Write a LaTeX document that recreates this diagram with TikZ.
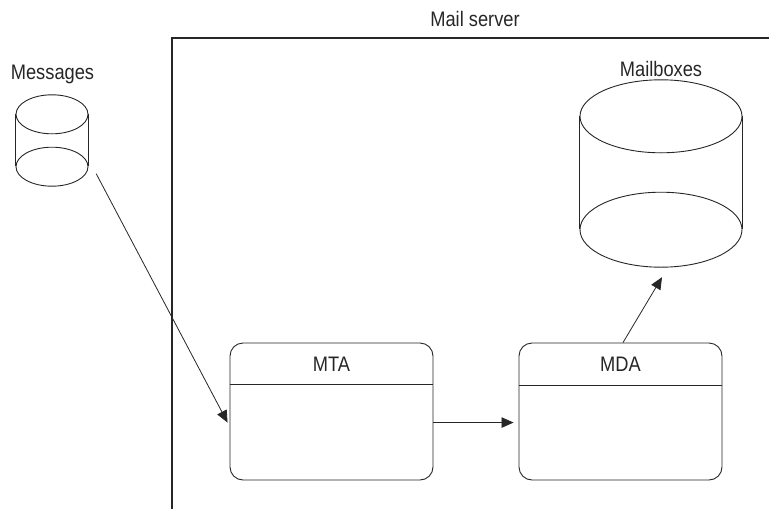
\documentclass[tikz,border=0pt]{standalone}
\usepackage{fontspec}
\setmainfont{Liberation Sans}[FakeStretch=0.87]
\usetikzlibrary{arrows.meta,calc}
\definecolor{ink}{HTML}{262626}
\begin{document}
\begin{tikzpicture}[x=1pt,y=-1pt,
  every node/.style={text=ink},
  lbl/.style={font=\fontsize{21}{24}\selectfont, inner sep=0pt, anchor=center},
  agentbox/.style={draw=ink, line width=0.9pt, rounded corners=13pt, minimum width=203pt, minimum height=137pt, inner sep=0pt},
  cylzone/.style={inner sep=0pt},
  conn/.style={draw=ink, line width=0.8pt, -{Triangle[length=12pt,width=10.5pt]}},
  outline/.style={draw=ink, line width=0.9pt}]
\useasboundingbox (0,0) rectangle (769,509);

% server frame
\draw[outline, line width=1.1pt] (769,38) -- (172,38) -- (172,509);
\node[lbl] (srvlbl) at (475,19) {Mail server};

% Messages cylinder
\node[cylzone, minimum width=72pt, minimum height=91pt] (msgs) at (52,140.5) {};
\draw[outline] (msgs.north west) ++(0,19.5) -- ++(0,52);
\draw[outline] (msgs.north east) ++(0,19.5) -- ++(0,52);
\draw[outline] ($(msgs.north)+(0,19.5)$) ellipse [x radius=36pt, y radius=19.5pt];
\draw[outline] ($(msgs.south)+(0,-19.5)$) ellipse [x radius=36pt, y radius=19.5pt];
\node[lbl] (msgslbl) at (52.5,74) {Messages};

% Mailboxes cylinder
\node[cylzone, minimum width=162pt, minimum height=187pt] (mbox) at (661,173.5) {};
\draw[outline] (mbox.north west) ++(0,36.5) -- ++(0,113);
\draw[outline] (mbox.north east) ++(0,36.5) -- ++(0,113);
\draw[outline] ($(mbox.north)+(0,36.5)$) ellipse [x radius=81pt, y radius=36.5pt];
\draw[outline] ($(mbox.south)+(0,-37.5)$) ellipse [x radius=81pt, y radius=37.5pt];
\node[lbl] (mboxlbl) at (661,69) {Mailboxes};

% MTA
\node[agentbox] (mta) at (331.5,411.5) {};
\draw[outline] ($(mta.north west)+(0,42)$) -- ($(mta.north east)+(0,42)$);
\node[lbl] (mtalbl) at ($(mta.north)+(0,21.5)$) {MTA};

% MDA
\node[agentbox] (mda) at (620.5,411.5) {};
\draw[outline] ($(mda.north west)+(0,43)$) -- ($(mda.north east)+(0,43)$);
\node[lbl] (mdalbl) at ($(mda.north)+(0,21.5)$) {MDA};

% connectors
\coordinate (msgsout) at ($(msgs.south east)+(8,-12.5)$);
\coordinate (mtain) at ($(mta.north west)+(-2,80)$);
\draw[conn] (msgsout) -- (mtain);
\coordinate (mtaout) at ($(mta.north east)+(0,80)$);
\coordinate (mdain) at ($(mda.north west)+(-5,80)$);
\draw[conn] (mtaout) -- (mdain);
\coordinate (mdaout) at ($(mda.north)+(2.5,0)$);
\coordinate (mboxin) at ($(mbox.south)+(1,10)$);
\draw[conn] (mdaout) -- (mboxin);
\end{tikzpicture}
\end{document}
